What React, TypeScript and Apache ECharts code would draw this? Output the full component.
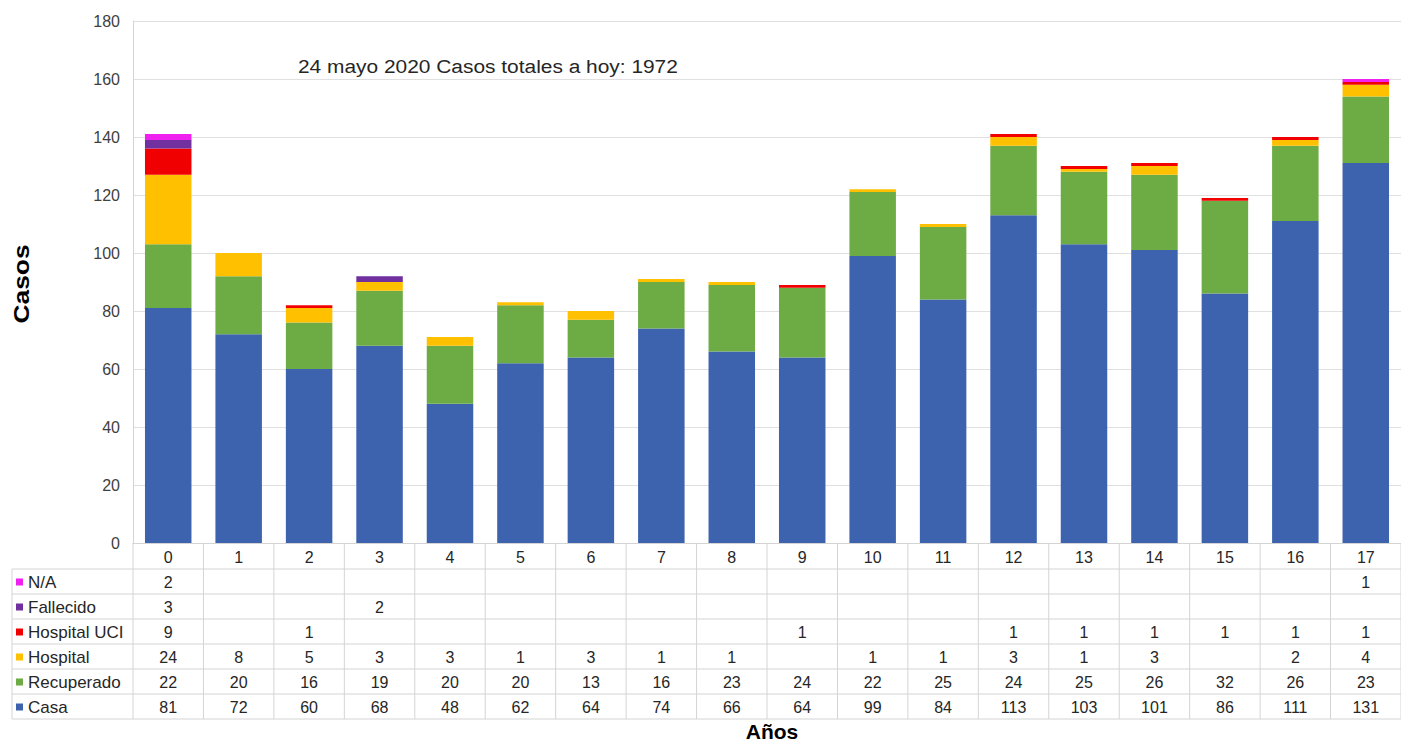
import React, { useEffect, useRef } from "react";
import * as echarts from "echarts";

const categories = ["0", "1", "2", "3", "4", "5", "6", "7", "8", "9", "10", "11", "12", "13", "14", "15", "16", "17"];
const casa = [81, 72, 60, 68, 48, 62, 64, 74, 66, 64, 99, 84, 113, 103, 101, 86, 111, 131];
const recuperado = [22, 20, 16, 19, 20, 20, 13, 16, 23, 24, 22, 25, 24, 25, 26, 32, 26, 23];
const hospital = [24, 8, 5, 3, 3, 1, 3, 1, 1, null, 1, 1, 3, 1, 3, null, 2, 4];
const hospitalUci = [9, null, 1, null, null, null, null, null, null, 1, null, null, 1, 1, 1, 1, 1, 1];
const fallecido = [3, null, null, 2, null, null, null, null, null, null, null, null, null, null, null, null, null, null];
const na = [2, null, null, null, null, null, null, null, null, null, null, null, null, null, null, null, null, 1];
const yTicks = { min: 0, max: 180, interval: 20 };
const annotation = "24 mayo 2020 Casos totales a hoy: 1972";

const seriesList = [
  { name: "Casa", data: casa, color: "#3D62AE" },
  { name: "Recuperado", data: recuperado, color: "#6DAB45" },
  { name: "Hospital", data: hospital, color: "#FFC000" },
  { name: "Hospital UCI", data: hospitalUci, color: "#F00000" },
  { name: "Fallecido", data: fallecido, color: "#7030A0" },
  { name: "N/A", data: na, color: "#F020F0" },
];

const GRID_LEFT = 133;
const GRID_TOP = 21;
const GRID_H = 522;
const GRID_W = 1276;
const TABLE_LEFT = 12;
const HEADER_H = 26;
const ROW_H = 25;
const LINE_COLOR = "#D4D4D4";
const FONT = "Liberation Sans, Arial, sans-serif";

export default function App() {
  const ref = useRef<HTMLDivElement>(null);
  useEffect(() => {
    document.body.style.margin = "0";
    const chart = echarts.init(ref.current!, null, { renderer: "svg" });
    chart.setOption({
      animation: false,
      backgroundColor: "#ffffff",
      grid: { left: GRID_LEFT, top: GRID_TOP, width: GRID_W, height: GRID_H },
      xAxis: {
        type: "category",
        data: categories,
        axisLine: { show: true, lineStyle: { color: LINE_COLOR } },
        axisTick: { show: false },
        axisLabel: { show: false },
      },
      yAxis: {
        type: "value",
        min: yTicks.min,
        max: yTicks.max,
        interval: yTicks.interval,
        axisLine: { show: true, lineStyle: { color: LINE_COLOR } },
        axisTick: { show: false },
        axisLabel: { color: "#404040", fontSize: 16, fontFamily: FONT, margin: 13 },
        splitLine: { lineStyle: { color: "#E0E0E0" } },
      },
      series: seriesList.map((s) => ({
        type: "bar",
        name: s.name,
        stack: "total",
        data: s.data,
        barCategoryGap: "34%",
        itemStyle: { color: s.color },
      })),
    });

    const centers = categories.map((_, i) => chart.convertToPixel({ xAxisIndex: 0 }, i) as number);
    const band = centers.length > 1 ? centers[1] - centers[0] : GRID_W;
    const top = GRID_TOP + GRID_H;
    const rowsTop = top + HEADER_H;
    const rows = [...seriesList].reverse();
    const bottom = rowsTop + rows.length * ROW_H;
    const right = centers[centers.length - 1] + band / 2;
    const g: any[] = [];
    const line = (x1: number, y1: number, x2: number, y2: number) =>
      g.push({ type: "line", shape: { x1, y1, x2, y2 }, style: { stroke: LINE_COLOR, lineWidth: 1 }, silent: true });

    line(TABLE_LEFT, rowsTop, TABLE_LEFT, bottom);
    centers.forEach((c) => line(c - band / 2, top, c - band / 2, bottom));
    line(right, top, right, bottom);
    for (let r = 0; r <= rows.length; r++) line(TABLE_LEFT, rowsTop + r * ROW_H, right, rowsTop + r * ROW_H);

    const numStyle = { fill: "#262626", fontSize: 16, fontFamily: FONT };
    centers.forEach((c, i) =>
      g.push({
        type: "text",
        x: c,
        y: top + HEADER_H / 2 + 1,
        style: { ...numStyle, text: categories[i], align: "center", verticalAlign: "middle" },
      })
    );
    rows.forEach((s, r) => {
      const cy = rowsTop + r * ROW_H + ROW_H / 2 + 1;
      g.push({ type: "rect", shape: { x: TABLE_LEFT + 4, y: cy - 4, width: 7, height: 7 }, style: { fill: s.color } });
      g.push({
        type: "text",
        x: TABLE_LEFT + 16,
        y: cy,
        style: { fill: "#262626", fontSize: 17, fontFamily: FONT, text: s.name, align: "left", verticalAlign: "middle" },
      });
      s.data.forEach((v, i) => {
        if (v == null) return;
        g.push({ type: "text", x: centers[i], y: cy, style: { ...numStyle, text: String(v), align: "center", verticalAlign: "middle" } });
      });
    });

    g.push({
      type: "text",
      x: 298,
      y: 66,
      scaleX: 1.1,
      style: { fill: "#262626", fontSize: 19, fontFamily: FONT, text: annotation, verticalAlign: "middle" },
    });
    g.push({
      type: "text",
      x: 772,
      y: 732,
      scaleX: 1.05,
      style: { fill: "#000000", fontSize: 20, fontWeight: "bold", fontFamily: FONT, text: "Años", align: "center", verticalAlign: "middle" },
    });
    g.push({
      type: "text",
      x: 21,
      y: 284,
      rotation: Math.PI / 2,
      scaleX: 1.2,
      style: { fill: "#000000", fontSize: 22, fontWeight: "bold", fontFamily: FONT, text: "Casos", align: "center", verticalAlign: "middle" },
    });

    chart.setOption({ graphic: g });
    return () => chart.dispose();
  }, []);
  return <div ref={ref} style={{ width: 1401, height: 744 }} />;
}
